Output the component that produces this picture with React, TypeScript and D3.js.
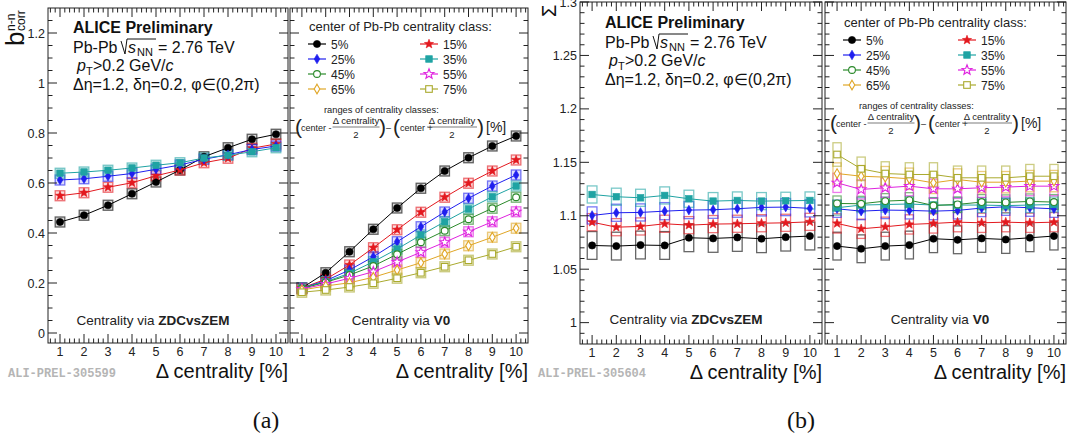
import React from 'react';
import * as d3 from 'd3';

// x values: width of centrality class
const deltaCentrality = [1, 2, 3, 4, 5, 6, 7, 8, 9, 10];
const centralityClasses = ['5%', '15%', '25%', '35%', '45%', '55%', '65%', '75%'];

// (a) b_corr, centrality via ZDCvsZEM (only central classes)
const bcorrZdc5 = [0.444, 0.471, 0.511, 0.557, 0.604, 0.652, 0.705, 0.741, 0.775, 0.795];
const bcorrZdc15 = [0.549, 0.561, 0.583, 0.601, 0.629, 0.652, 0.681, 0.699, 0.739, 0.756];
const bcorrZdc25 = [0.612, 0.617, 0.627, 0.638, 0.655, 0.672, 0.695, 0.713, 0.734, 0.748];
const bcorrZdc35 = [0.639, 0.644, 0.651, 0.660, 0.671, 0.681, 0.700, 0.711, 0.725, 0.741];

// (a) b_corr, centrality via V0
const bcorrV05 = [0.180, 0.241, 0.325, 0.415, 0.500, 0.579, 0.648, 0.701, 0.748, 0.788];
const bcorrV015 = [0.180, 0.215, 0.272, 0.341, 0.413, 0.483, 0.543, 0.599, 0.648, 0.692];
const bcorrV025 = [0.180, 0.209, 0.252, 0.305, 0.365, 0.425, 0.484, 0.539, 0.588, 0.632];
const bcorrV035 = [0.180, 0.205, 0.239, 0.285, 0.336, 0.392, 0.445, 0.496, 0.545, 0.588];
const bcorrV045 = [0.178, 0.203, 0.232, 0.268, 0.315, 0.363, 0.409, 0.455, 0.499, 0.543];
const bcorrV055 = [0.176, 0.196, 0.219, 0.245, 0.284, 0.323, 0.363, 0.405, 0.445, 0.485];
const bcorrV065 = [0.172, 0.188, 0.201, 0.223, 0.252, 0.281, 0.316, 0.349, 0.383, 0.419];
const bcorrV075 = [0.163, 0.172, 0.184, 0.199, 0.219, 0.241, 0.265, 0.291, 0.316, 0.345];

// (b) Sigma, centrality via ZDCvsZEM
const sigmaZdc5 = [1.0722, 1.0716, 1.0726, 1.0722, 1.0794, 1.0788, 1.0797, 1.0785, 1.08, 1.081];
const sigmaZdc15 = [1.094, 1.0893, 1.09, 1.0925, 1.0912, 1.0922, 1.0925, 1.093, 1.0934, 1.0943];
const sigmaZdc25 = [1.1003, 1.1028, 1.1031, 1.1043, 1.1053, 1.1056, 1.1066, 1.1078, 1.1081, 1.1069];
const sigmaZdc35 = [1.1199, 1.1178, 1.1168, 1.119, 1.1159, 1.1137, 1.1143, 1.1137, 1.114, 1.1143];

// (b) Sigma, centrality via V0
const sigmaV05 = [1.0716, 1.0691, 1.0716, 1.0726, 1.0785, 1.0775, 1.0788, 1.0778, 1.0794, 1.081];
const sigmaV015 = [1.0928, 1.0878, 1.0897, 1.0919, 1.0928, 1.094, 1.0934, 1.094, 1.0934, 1.094];
const sigmaV025 = [1.1065, 1.1043, 1.1053, 1.105, 1.1043, 1.105, 1.1072, 1.1084, 1.1075, 1.1065];
const sigmaV035 = [1.1075, 1.11, 1.1105, 1.111, 1.11, 1.11, 1.11, 1.1095, 1.11, 1.1105];
const sigmaV045 = [1.1115, 1.1112, 1.1137, 1.1146, 1.1096, 1.1106, 1.1128, 1.1125, 1.1134, 1.1128];
const sigmaV055 = [1.1308, 1.1246, 1.1262, 1.1277, 1.1252, 1.1252, 1.1262, 1.1268, 1.1277, 1.1277];
const sigmaV065 = [1.1395, 1.137, 1.1361, 1.1346, 1.1308, 1.1339, 1.1314, 1.1314, 1.1324, 1.1324];
const sigmaV075 = [1.1573, 1.1439, 1.1395, 1.1386, 1.1386, 1.1355, 1.1355, 1.1355, 1.137, 1.137];

// systematic uncertainty (half height of boxes) per class
const bcorrSyst = [0.02, 0.02, 0.02, 0.02, 0.02, 0.02, 0.02, 0.02];
const sigmaZdcSyst = [0.013, 0.008, 0.008, 0.008];
const sigmaV0Syst = [0.013, 0.009, 0.008, 0.007, 0.007, 0.009, 0.01, 0.011];

const colors = ['#000000', '#e3191f', '#1f1fef', '#1fa3a3', '#2b8a2b', '#df22df', '#e0a626', '#aaaa2e'];
const markers = ['fcircle', 'fstar', 'fdiamond', 'fsquare', 'ocircle', 'ostar', 'odiamond', 'osquare'];

const FONT = 'Liberation Sans, Arial, Helvetica, sans-serif';

function starPath(cx: number, cy: number, r: number) {
  const pts: string[] = [];
  for (let i = 0; i < 10; i++) {
    const rr = i % 2 === 0 ? r : r * 0.42;
    const a = -Math.PI / 2 + (i * Math.PI) / 5;
    pts.push(`${cx + rr * Math.cos(a)},${cy + rr * Math.sin(a)}`);
  }
  return 'M' + pts.join('L') + 'Z';
}

function Marker({ kind, cx, cy, color }: { kind: string; cx: number; cy: number; color: string }) {
  const filled = kind[0] === 'f';
  const fill = filled ? color : 'white';
  const sw = filled ? 0.6 : 1.1;
  if (kind.endsWith('circle')) return <circle cx={cx} cy={cy} r={filled ? 3.6 : 3.4} fill={fill} stroke={color} strokeWidth={sw} />;
  if (kind.endsWith('star')) return <path d={starPath(cx, cy, filled ? 4.8 : 5.2)} fill={fill} stroke={color} strokeWidth={sw} />;
  if (kind.endsWith('diamond'))
    return <path d={`M${cx},${cy - 4.8}L${cx + 2.8},${cy}L${cx},${cy + 4.8}L${cx - 2.8},${cy}Z`} fill={fill} stroke={color} strokeWidth={sw} />;
  return <rect x={cx - 3.3} y={cy - 3.3} width={6.6} height={6.6} fill={fill} stroke={color} strokeWidth={sw} />;
}

type Series = { values: number[]; syst: number; idx: number };

function SubPanel(props: {
  x0: number; x1: number; y: d3.ScaleLinear<number, number>;
  yMajor: number[]; yMinor: number[]; series: Series[]; yLabels: boolean; yFmt: (v: number) => string;
  boxW: number; boxFill: number; caption: string; captionBold: string; captionX: number; captionY: number;
}) {
  const { x0, x1, y, yMajor, yMinor, series, yLabels, yFmt, boxW } = props;
  const x = d3.scaleLinear().domain([0.5, 10.5]).range([x0, x1]);
  const [yb, yt] = y.range();
  const xMinor = d3.range(6, 105, 2).map(v => v / 10).filter(v => Math.abs(v - Math.round(v)) > 0.01);
  return (
    <g>
      {/* systematic boxes */}
      {series.map(s => s.values.map((v, i) => (
        <rect key={`b${s.idx}-${i}`} x={x(deltaCentrality[i] - boxW)} y={y(v + s.syst)}
          width={x(deltaCentrality[i] + boxW) - x(deltaCentrality[i] - boxW)} height={y(v - s.syst) - y(v + s.syst)}
          fill={colors[s.idx]} fillOpacity={props.boxFill} stroke={colors[s.idx]} strokeOpacity={0.6} strokeWidth={1.3} />
      )))}
      {series.map(s => (
        <path key={`l${s.idx}`} d={d3.line<number>().x((_, i) => x(deltaCentrality[i])).y(v => y(v))(s.values) || ''}
          fill="none" stroke={colors[s.idx]} strokeWidth={1} />
      ))}
      {series.map(s => s.values.map((v, i) => (
        <Marker key={`m${s.idx}-${i}`} kind={markers[s.idx]} cx={x(deltaCentrality[i])} cy={y(v)} color={colors[s.idx]} />
      )))}
      {/* frame */}
      <rect x={x0} y={yt} width={x1 - x0} height={yb - yt} fill="none" stroke="#222" strokeWidth={1} />
      {/* x ticks */}
      {deltaCentrality.map(t => (
        <g key={`xt${t}`}>
          <line x1={x(t)} x2={x(t)} y1={yb} y2={yb - 9} stroke="#222" />
          <line x1={x(t)} x2={x(t)} y1={yt} y2={yt + 9} stroke="#222" />
          <text x={x(t)} y={yb + 13} textAnchor="middle" fontSize={12.5} fontFamily={FONT} fill="#222">{t}</text>
        </g>
      ))}
      {xMinor.map(t => (
        <g key={`xm${t}`}>
          <line x1={x(t)} x2={x(t)} y1={yb} y2={yb - 4.5} stroke="#222" />
          <line x1={x(t)} x2={x(t)} y1={yt} y2={yt + 4.5} stroke="#222" />
        </g>
      ))}
      {/* y ticks */}
      {yMajor.map(t => (
        <g key={`yt${t}`}>
          <line x1={x0} x2={x0 + 9} y1={y(t)} y2={y(t)} stroke="#222" />
          <line x1={x1} x2={x1 - 9} y1={y(t)} y2={y(t)} stroke="#222" />
          {yLabels && <text x={x0 - 3} y={y(t) + 4.5} textAnchor="end" fontSize={12.5} fontFamily={FONT} fill="#222">{yFmt(t)}</text>}
        </g>
      ))}
      {yMinor.map(t => (
        <g key={`ym${t}`}>
          <line x1={x0} x2={x0 + 4.5} y1={y(t)} y2={y(t)} stroke="#222" />
          <line x1={x1} x2={x1 - 4.5} y1={y(t)} y2={y(t)} stroke="#222" />
        </g>
      ))}
      <text x={props.captionX} y={props.captionY} textAnchor="middle" fontSize={13.5} fontFamily={FONT} fill="#222">
        {props.caption}<tspan fontWeight="bold">{props.captionBold}</tspan>
      </text>
      <text x={x1} y={yb + 35} textAnchor="end" fontSize={20} fontFamily={FONT} fill="#111">Δ centrality [%]</text>
    </g>
  );
}

function InfoText({ x, y }: { x: number; y: number }) {
  return (
    <g fontFamily={FONT} fill="#111">
      <text x={x} y={y} fontSize={16} fontWeight="bold">ALICE Preliminary</text>
      <text x={x} y={y + 20} fontSize={16}>Pb-Pb</text>
      <path d={`M${x + 48},${y + 8}L${x + 52},${y + 21}L${x + 54},${y + 6}L${x + 83},${y + 6}`} fill="none" stroke="#111" strokeWidth={1} />
      <text x={x + 55} y={y + 20} fontSize={16} fontStyle="italic">s</text>
      <text x={x + 64} y={y + 23} fontSize={11}>NN</text>
      <text x={x + 85} y={y + 20} fontSize={16}>= 2.76 TeV</text>
      <text x={x + 4} y={y + 38} fontSize={16} fontStyle="italic">p</text>
      <text x={x + 13} y={y + 42} fontSize={11}>T</text>
      <text x={x + 20} y={y + 38} fontSize={16}>&gt;0.2 GeV/<tspan fontStyle="italic">c</tspan></text>
      <text x={x} y={y + 57} fontSize={16}>Δη=1.2, δη=0.2, φ∈(0,2π)</text>
    </g>
  );
}

function Fraction({ cx, y, w }: { cx: number; y: number; w: number }) {
  return (
    <g>
      <text x={cx} y={y - 3} textAnchor="middle" fontSize={9.5}>Δ centrality</text>
      <line x1={cx - w / 2} x2={cx + w / 2} y1={y} y2={y} stroke="#444" strokeWidth={0.7} />
      <text x={cx} y={y + 11} textAnchor="middle" fontSize={9.5}>2</text>
    </g>
  );
}

function Legend({ x, y, labelX2 }: { x: number; y: number; labelX2: number }) {
  return (
    <g fontFamily={FONT} fill="#222">
      <text x={x} y={y} fontSize={13}>center of Pb-Pb centrality class:</text>
      {centralityClasses.map((c, i) => {
        const col = i % 2;
        const row = Math.floor(i / 2);
        const lx = col === 0 ? x - 1 : x + labelX2;
        const ly = y + 13 + row * 15;
        return (
          <g key={c}>
            <line x1={lx} x2={lx + 18} y1={ly} y2={ly} stroke={colors[i]} strokeWidth={1.2} />
            <Marker kind={markers[i]} cx={lx + 9} cy={ly} color={colors[i]} />
            <text x={lx + 23} y={ly + 4.5} fontSize={12}>{c}</text>
          </g>
        );
      })}
      <text x={x + 15} y={y + 82} fontSize={9.3}>ranges of centrality classes:</text>
      {/* formula */}
      <g transform={`translate(${x - 14},${y + 96})`}>
        <text x={0} y={7} fontSize={21} fontWeight="300">(</text>
        <text x={6} y={4} fontSize={9}>center -</text>
        <Fraction cx={61} y={0} w={47} />
        <text x={84} y={7} fontSize={21} fontWeight="300">)</text>
        <text x={91} y={4} fontSize={9}>–</text>
        <text x={98} y={7} fontSize={21} fontWeight="300">(</text>
        <text x={105} y={4} fontSize={9}>center +</text>
        <Fraction cx={157} y={0} w={50} />
        <text x={182} y={7} fontSize={21} fontWeight="300">)</text>
        <text x={191} y={5} fontSize={14}>[%]</text>
      </g>
    </g>
  );
}

export default function App() {
  const yA = d3.scaleLinear().domain([-0.04, 1.3]).range([343, 8]);
  const yB = d3.scaleLinear().domain([0.98, 1.3]).range([344, 2]);

  const aMajor = d3.range(0, 7).map(i => i * 0.2);
  const aMinor = d3.range(0, 27).map(i => i * 0.05).filter(v => Math.abs(v / 0.2 - Math.round(v / 0.2)) > 0.01 && v < 1.3);
  const bMajor = d3.range(0, 7).map(i => 1 + i * 0.05);
  const bMinor = d3.range(-1, 31).map(i => 1 + i * 0.01).filter(v => Math.abs(v / 0.05 - Math.round(v / 0.05)) > 0.01 && v > 0.98 && v < 1.3);

  const bcorrZdc = [bcorrZdc5, bcorrZdc15, bcorrZdc25, bcorrZdc35];
  const bcorrV0 = [bcorrV05, bcorrV015, bcorrV025, bcorrV035, bcorrV045, bcorrV055, bcorrV065, bcorrV075];
  const sigmaZdc = [sigmaZdc5, sigmaZdc15, sigmaZdc25, sigmaZdc35];
  const sigmaV0 = [sigmaV05, sigmaV015, sigmaV025, sigmaV035, sigmaV045, sigmaV055, sigmaV065, sigmaV075];

  const fmtA = (v: number) => String(+v.toFixed(1));
  const fmtB = (v: number) => String(+v.toFixed(2));

  return (
    <svg width={1069} height={441} style={{ position: 'absolute', left: 0, top: 0, background: 'white' }}>
      <rect width={1069} height={441} fill="white" />
      {/* ---------- (a) ---------- */}
      <SubPanel x0={48} x1={288} y={yA} yMajor={aMajor} yMinor={aMinor} yLabels yFmt={fmtA} boxW={0.2} boxFill={0.15}
        series={bcorrZdc.map((v, i) => ({ values: v, syst: bcorrSyst[i], idx: i }))}
        caption="Centrality via " captionBold="ZDCvsZEM" captionX={153} captionY={325} />
      <SubPanel x0={290} x1={528} y={yA} yMajor={aMajor} yMinor={aMinor} yLabels={false} yFmt={fmtA} boxW={0.2} boxFill={0.15}
        series={bcorrV0.map((v, i) => ({ values: v, syst: bcorrSyst[i], idx: i }))}
        caption="Centrality via " captionBold="V0" captionX={401} captionY={325} />
      <InfoText x={73} y={33} />
      <Legend x={309} y={31} labelX2={111} />
      <g transform="rotate(-90)" fontFamily={FONT} fill="#111">
        <text x={-46} y={24} fontSize={26}>b</text>
        <text x={-31} y={15} fontSize={12}>n-n</text>
        <text x={-31} y={25} fontSize={12}>corr</text>
      </g>
      <text x={8} y={377} fontSize={12} fontFamily="Liberation Mono, Courier New, monospace" fontWeight="bold" fill="#b5b5b5">ALI-PREL-305599</text>
      <text x={266} y={428} textAnchor="middle" fontSize={24} fontFamily="Liberation Serif, Times New Roman, serif" fill="#111">(a)</text>

      {/* ---------- (b) ---------- */}
      <SubPanel x0={580} x1={822} y={yB} yMajor={bMajor} yMinor={bMinor} yLabels yFmt={fmtB} boxW={0.2} boxFill={0}
        series={sigmaZdc.map((v, i) => ({ values: v, syst: sigmaZdcSyst[i], idx: i }))}
        caption="Centrality via " captionBold="ZDCvsZEM" captionX={686} captionY={324} />
      <SubPanel x0={825} x1={1066} y={yB} yMajor={bMajor} yMinor={bMinor} yLabels={false} yFmt={fmtB} boxW={0.17} boxFill={0}
        series={sigmaV0.map((v, i) => ({ values: v, syst: sigmaV0Syst[i], idx: i }))}
        caption="Centrality via " captionBold="V0" captionX={940} captionY={324} />
      <InfoText x={605} y={28} />
      <Legend x={844} y={27} labelX2={114} />
      <text transform="rotate(-90)" x={-17} y={556} fontSize={20} fontFamily={FONT} fill="#111">Σ</text>
      <text x={538} y={377} fontSize={12} fontFamily="Liberation Mono, Courier New, monospace" fontWeight="bold" fill="#b5b5b5">ALI-PREL-305604</text>
      <text x={801} y={428} textAnchor="middle" fontSize={24} fontFamily="Liberation Serif, Times New Roman, serif" fill="#111">(b)</text>
    </svg>
  );
}
